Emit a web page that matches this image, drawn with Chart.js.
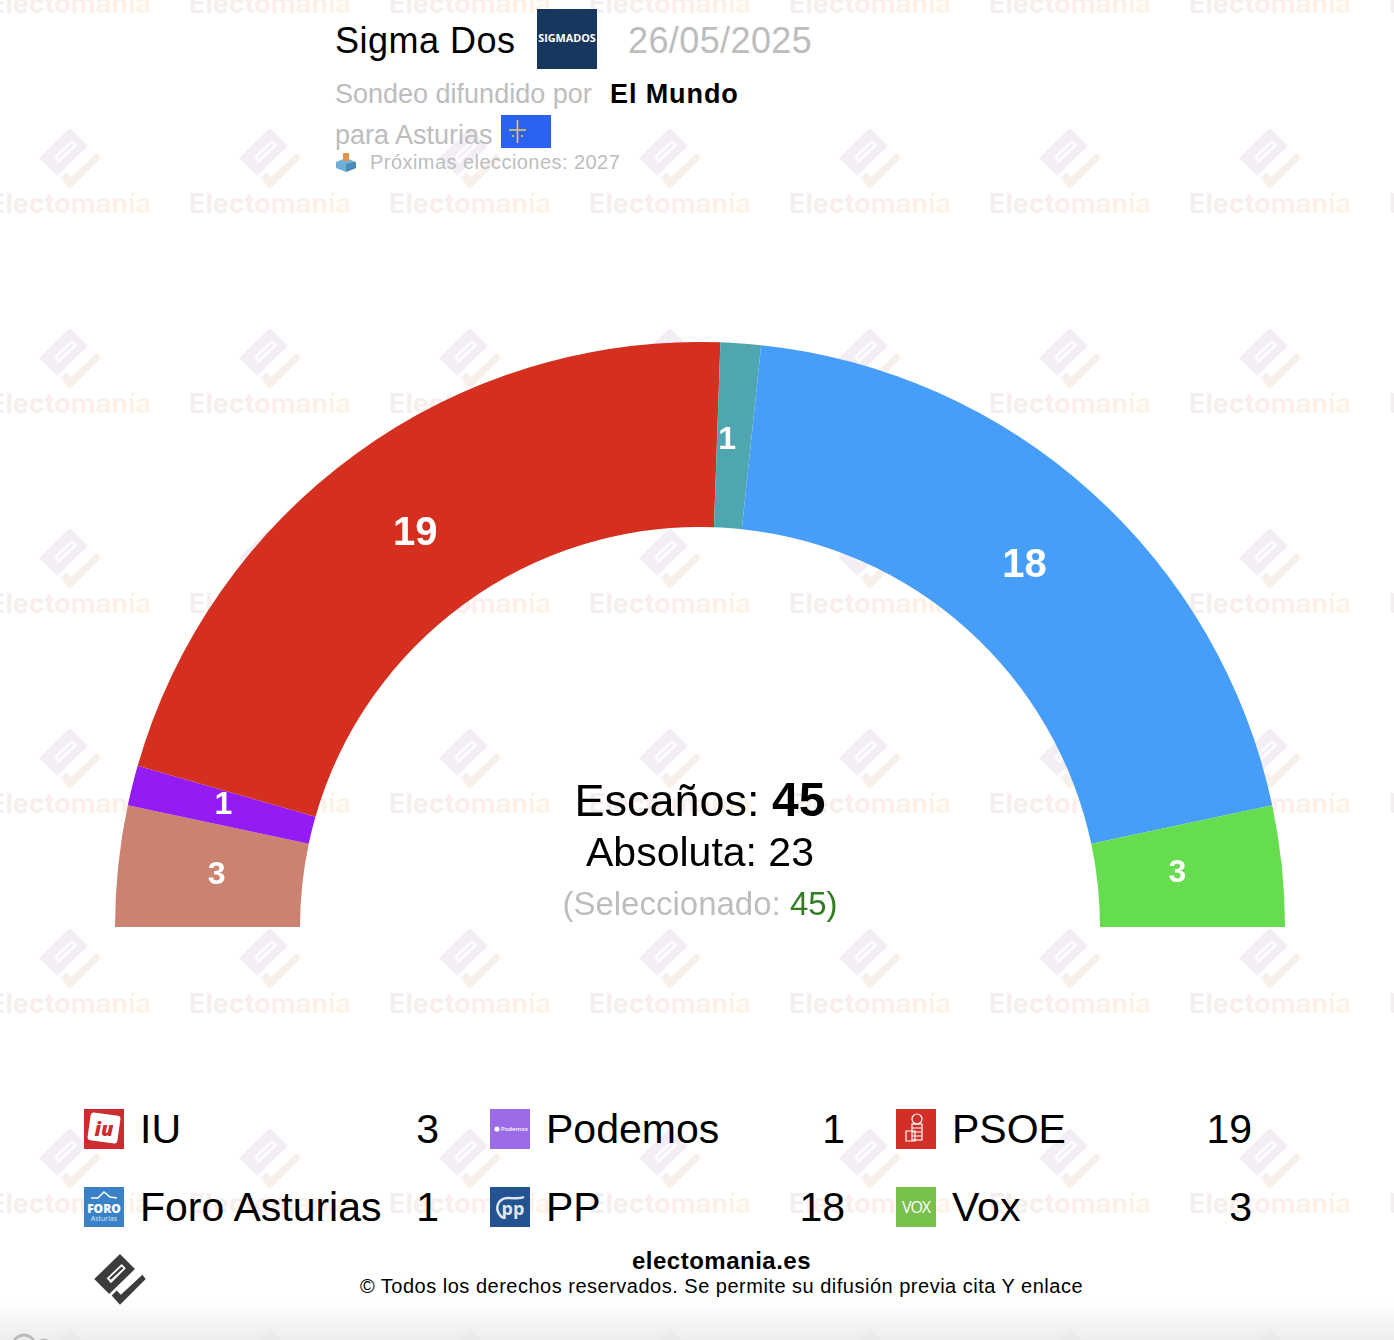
<!DOCTYPE html>
<html>
<head>
<meta charset="utf-8">
<title>Sigma Dos - Asturias</title>
<script src="https://cdn.jsdelivr.net/npm/chart.js@4"></script>
<style>
html, body { margin: 0; padding: 0; background: #fff; }
body { width: 1394px; height: 1340px; overflow: hidden; position: relative; font-family: "Liberation Sans", Arial, sans-serif; color: #000; }
.abs { position: absolute; white-space: nowrap; line-height: 1; }
#wm, #fade { position: absolute; left: 0; top: 0; width: 1394px; height: 1340px; }
#fade { background: linear-gradient(to bottom, rgba(232,232,232,0) 1300px, rgba(232,232,232,0.75) 1340px); }
#box { position: absolute; left: 115px; top: 342px; width: 1170px; height: 585px; }
.grey { color: #bdbdbd; }
.icon { position: absolute; width: 40px; height: 40px; }
.name, .seats { position: absolute; font-size: 41px; line-height: 1; white-space: nowrap; }
.seats { text-align: right; }
</style>
</head>
<body>
<svg id="wm" xmlns="http://www.w3.org/2000/svg">
  <defs>
    <linearGradient id="wmText" x1="0" x2="1" y1="0" y2="0">
      <stop offset="0" stop-color="#f3efee"/><stop offset="0.5" stop-color="#fbeeec"/><stop offset="1" stop-color="#fdf3e6"/>
    </linearGradient>
    <pattern id="tile" x="0" y="0" width="200" height="200" patternUnits="userSpaceOnUse">
      <g transform="translate(70 158)">
        <path d="M0,-30 L18,-12 L-13,18 L-31,0 Z M-16,-1 L2,-18 L7,-13 L-11,5 Z M-13,-1 L2,-15 L4,-13 L-11,1 Z" fill="#f3eef6" fill-rule="evenodd"/>
        <path d="M27,-5 L31,0 L0,31 L-10,20 L-4,14 L1,19 Z" fill="#f8f0ea"/>
      </g>
      <g font-family="Inter, 'Liberation Sans'" font-weight="700" font-size="27" fill="url(#wmText)" text-anchor="middle">
        <text x="70" y="213">Electomanía</text>
        <text x="270" y="213">Electomanía</text>
        <text x="-130" y="213">Electomanía</text>
        <text x="70" y="13">Electomanía</text>
        <text x="270" y="13">Electomanía</text>
        <text x="-130" y="13">Electomanía</text>
      </g>
    </pattern>
  </defs>
  <rect width="1394" height="1340" fill="url(#tile)"/>
</svg>
<div id="fade"></div>
<svg class="abs" style="left:0;top:1325px" width="70" height="15"><circle cx="24" cy="21" r="11" fill="none" stroke="#bbb" stroke-width="3"/><circle cx="44" cy="21" r="6" fill="none" stroke="#bbb" stroke-width="3"/></svg>

<div class="abs" style="left:335px;top:23px;font-size:36px;letter-spacing:.5px;">Sigma Dos</div>
<svg class="abs" style="left:537px;top:9px" width="60" height="60"><rect width="60" height="60" fill="#17375f"/><text x="30" y="33" text-anchor="middle" font-family="'Open Sans'" font-weight="700" font-size="10.8" fill="#fff">SIGMADOS</text></svg>
<div class="abs grey" style="left:628px;top:23px;font-size:36px;letter-spacing:.4px;">26/05/2025</div>
<div class="abs grey" style="left:335px;top:81px;font-size:27px;">Sondeo difundido por</div>
<div class="abs" style="left:610px;top:81px;font-size:27px;font-weight:700;letter-spacing:.9px;">El Mundo</div>
<div class="abs grey" style="left:335px;top:122px;font-size:27px;">para Asturias</div>
<svg class="abs" style="left:501px;top:115px" width="50" height="33"><rect width="50" height="33" fill="#2a62f2"/><path d="M16.5,5 V28 M8,15 H25 M12,20 V22 M21,20 V22" stroke="#eccf4a" stroke-width="1.6" fill="none"/></svg>
<svg class="abs" style="left:336px;top:153px" width="20" height="19"><path d="M10,5 L20,9 V15 L10,19 L0,15 V9 Z" fill="#6fb0d6"/><path d="M10,11 L20,9 V15 L10,19 Z" fill="#4b8cb6"/><rect x="7" y="0" width="6" height="8" rx="1" fill="#e0964a"/></svg>
<div class="abs" style="left:370px;top:152px;font-size:20px;color:#bdbdbd;letter-spacing:.45px;">Próximas elecciones: 2027</div>

<div id="box"><canvas id="chart" width="1170" height="585"></canvas></div>

<div class="abs" style="left:0;width:1400px;text-align:center;top:776px;font-size:45px;">Escaños: <b style="font-size:48px">45</b></div>
<div class="abs" style="left:0;width:1400px;text-align:center;top:832px;font-size:41px;">Absoluta: 23</div>
<div class="abs grey" style="left:0;width:1400px;text-align:center;top:887px;font-size:33px;">(Seleccionado: <span style="color:#2f7d1e">45)</span></div>

<div id="legend"></div>

<svg class="abs" style="left:94px;top:1253px" width="52" height="52"><g transform="translate(26 26) scale(.83)"><path d="M0,-30 L18,-12 L-13,18 L-31,0 Z M-16,-1 L2,-18 L7,-13 L-11,5 Z M-13,-1 L2,-15 L4,-13 L-11,1 Z" fill="#3c3c3c" fill-rule="evenodd"/><path d="M27,-5 L31,0 L0,31 L-10,20 L-4,14 L1,19 Z" fill="#3c3c3c"/></g></svg>
<div class="abs" style="left:0;width:1443px;text-align:center;top:1249px;font-size:24px;font-weight:700;letter-spacing:.5px;">electomania.es</div>
<div class="abs" style="left:0;width:1443px;text-align:center;top:1276px;font-size:20px;letter-spacing:.5px;">© Todos los derechos reservados. Se permite su difusión previa cita Y enlace</div>

<script>
// datos del sondeo
const partidos = ['IU', 'Podemos', 'PSOE', 'Foro Asturias', 'PP', 'Vox'];
const escanos = [3, 1, 19, 1, 18, 3];
const colores = ['#cc8270', '#931cf5', '#d52f20', '#4fa5b0', '#479ef9', '#66dd4f'];
const iconoFondo = ['#cc2b30', '#9b6be8', '#d32f27', '#3a82c8', '#235391', '#78c04c'];

// logos aproximados de cada partido
const iconoDibujo = [
    '<g transform="rotate(8 20 19)"><rect x="5" y="5" width="30" height="28" rx="3" fill="#fff"/></g><text x="20" y="27" text-anchor="middle" font-family="\'Open Sans\'" font-weight="800" font-style="italic" font-size="20" fill="#cc2b30">iu</text>',
    '<circle cx="7" cy="20" r="2.6" fill="#fff"/><text x="11" y="22" font-family="\'Open Sans\'" font-size="6" font-weight="600" fill="#fff">Podemos</text>',
    '<g fill="none" stroke="#fff" stroke-width="1.2"><circle cx="21" cy="10" r="5"/><rect x="16" y="15" width="10" height="16"/><path d="M16,19 H26 M16,23 H26 M16,27 H26"/><path d="M10,22 H19 V32 H10 Z"/></g>',
    '<path d="M7,11 L14,11 L20,5 L26,10 L33,11" fill="none" stroke="#fff" stroke-width="1.5"/><text x="20" y="26" text-anchor="middle" font-family="\'Open Sans\'" font-weight="800" font-size="12" fill="#fff">FORO</text><text x="20" y="34" text-anchor="middle" font-family="\'Open Sans\'" font-size="7" fill="#d5e6f5">Asturias</text>',
    '<path d="M13,31 C3,23 7,10 20,11 C26,11 30,12 34,10" fill="none" stroke="#dfe6f0" stroke-width="2.5"/><text x="23" y="28" text-anchor="middle" font-family="\'Open Sans\'" font-weight="700" font-size="18" fill="#dfe6f0">pp</text>',
    '<text x="20" y="26" text-anchor="middle" font-family="\'Open Sans\'" font-size="16" fill="#fff" letter-spacing="-1">VOX</text>'
];

// leyenda en dos filas de tres
const legend = document.getElementById('legend');
const colX = [84, 490, 896];
const colFin = [439, 845, 1252];
const filaY = [1109, 1187];
partidos.forEach((nombre, i) => {
    const c = i % 3, f = Math.floor(i / 3);
    legend.insertAdjacentHTML('beforeend', `
      <svg class="icon" style="left:${colX[c]}px;top:${filaY[f]}px" viewBox="0 0 40 40">
        <rect width="40" height="40" fill="${iconoFondo[i]}"/>${iconoDibujo[i]}
      </svg>
      <div class="name" style="left:${colX[c] + 56}px;top:${filaY[f]}px">${nombre}</div>
      <div class="seats" style="left:${colFin[c] - 80}px;width:80px;top:${filaY[f]}px">${escanos[i]}</div>`);
});

// numeros blancos dentro de cada sector
const etiquetas = {
    id: 'etiquetas',
    afterDatasetsDraw(chart) {
        const ctx = chart.ctx;
        const meta = chart.getDatasetMeta(0);
        const retoque = [[2, -3], [-3, -6], [2, -1], [-7, -2], [-2, -1], [-8, -5]];
        ctx.save();
        ctx.fillStyle = '#fff';
        ctx.textAlign = 'center';
        ctx.textBaseline = 'alphabetic';
        meta.data.forEach((arc, i) => {
            const p = arc.getProps(['x', 'y', 'startAngle', 'endAngle']);
            const a = (p.startAngle + p.endAngle) / 2;
            const r = 488;
            const size = escanos[i] >= 10 ? 40 : 32;
            ctx.font = `bold ${size}px "Liberation Sans"`;
            ctx.fillText(escanos[i], p.x + Math.cos(a) * r + retoque[i][0], p.y + Math.sin(a) * r + retoque[i][1] + size * 0.35);
        });
        ctx.restore();
    }
};

new Chart(document.getElementById('chart'), {
    type: 'doughnut',
    data: {
        labels: partidos,
        datasets: [{ data: escanos, backgroundColor: colores, borderWidth: 0 }]
    },
    options: {
        responsive: false,
        animation: false,
        rotation: -90,
        circumference: 180,
        cutout: '68.376%',
        plugins: { legend: { display: false }, tooltip: { enabled: false } }
    },
    plugins: [etiquetas]
});
</script>
</body>
</html>
